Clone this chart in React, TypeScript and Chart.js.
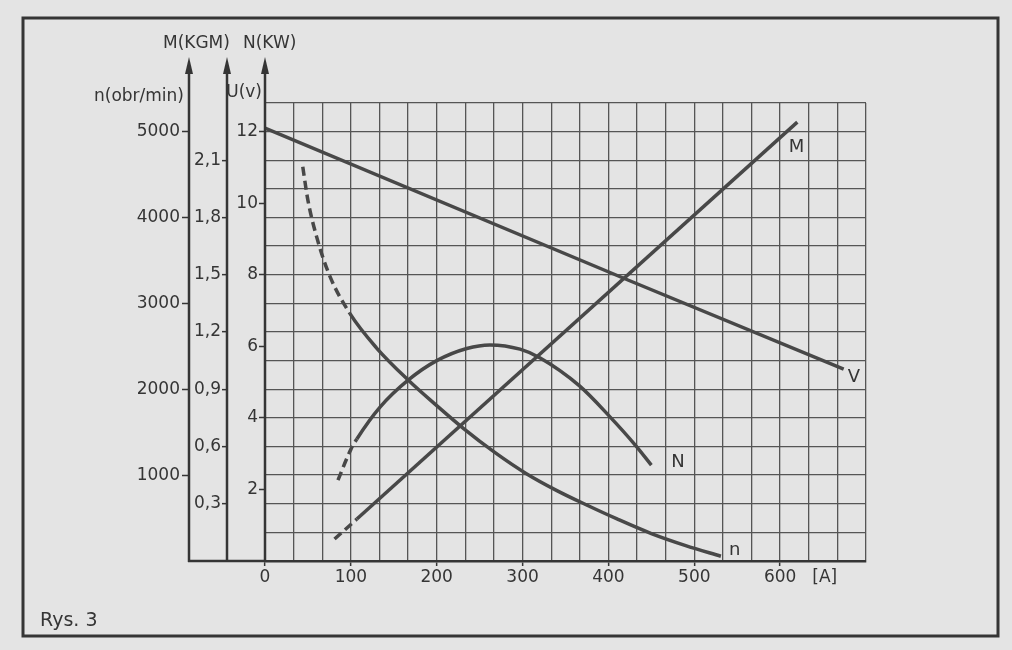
import React, { useEffect, useRef } from 'react';
import { Chart, registerables } from 'chart.js';

Chart.register(...registerables);

// ---- tick labels ----
const CURRENT_LABELS = [0, 100, 200, 300, 400, 500, 600];
const CURRENT_UNIT = '[A]';
const CURRENT_UNIT_AT = 652;
const U_TICKS = [2, 4, 6, 8, 10, 12];
const M_TICKS = [0.3, 0.6, 0.9, 1.2, 1.5, 1.8, 2.1];
const RPM_TICKS = [1000, 2000, 3000, 4000, 5000];

// ---- series (current I [A]); the first *_DASHED points are drawn dashed ----
// U (labelled V) [V]
const V_I = [0, 422, 674];
const V_U = [12.1, 7.86, 5.36];
// M torque [kGm]
const M_I = [81, 107, 620];
const M_VAL = [0.115, 0.22, 2.3];
const M_DASHED = 2;
// N power [kW]
const NP_I = [85, 100, 107, 134, 167, 200, 235, 262, 297, 320, 366, 401, 432, 450];
const NP_VAL = [2.26, 3.12, 3.41, 4.3, 5.06, 5.6, 5.94, 6.04, 5.92, 5.68, 4.9, 4.05, 3.22, 2.68];
const NP_DASHED = 3;
// n speed [obr/min]
const RPM_I = [44, 50, 60, 75, 99, 130, 167, 200, 231, 268, 304, 340, 374, 410, 450, 490, 531];
const RPM_VAL = [4590, 4200, 3780, 3330, 2880, 2480, 2105, 1810, 1545, 1262, 1020, 820, 655, 490, 320, 180, 55];
const RPM_DASHED = 5;

// curve name labels (I, U-axis units)
const CURVE_NAMES = ['M', 'V', 'N', 'n'];
const CURVE_NAME_I = [619, 686, 481, 547];
const CURVE_NAME_U = [11.57, 5.14, 2.77, 0.31];

const PAPER = '#e4e4e4';
const INK = '#353535';
const CURVE = '#484848';
const GRID = '#555555';
const FONT = 'DejaVu Sans';

const X_STEP = 100 / 3;
const M_STEP = 0.15;

const pts = (xs: number[], ys: number[]) => xs.map((x, i) => ({ x, y: ys[i] }));
const near = (a: number, b: number) => Math.abs(a - b) < 1e-6;

const decor = {
  id: 'decor',
  beforeDraw(chart: any) {
    const { ctx, width, height } = chart;
    ctx.save();
    ctx.fillStyle = PAPER;
    ctx.fillRect(0, 0, width, height);
    ctx.restore();
  },
  afterDraw(chart: any) {
    const { ctx, chartArea, scales } = chart;
    ctx.save();
    ctx.strokeStyle = INK;
    ctx.fillStyle = INK;
    // frame
    ctx.lineWidth = 3;
    ctx.strokeRect(23, 18, 975, 618);
    // axis lines with arrows
    ctx.lineWidth = 2.5;
    const tip = 57;
    [scales.yn, scales.yM, scales.y].forEach((s: any) => {
      const x = s.right;
      ctx.beginPath();
      ctx.moveTo(x, chartArea.bottom + 1);
      ctx.lineTo(x, tip + 10);
      ctx.stroke();
      ctx.beginPath();
      ctx.moveTo(x, tip);
      ctx.lineTo(x - 4, tip + 17);
      ctx.lineTo(x + 4, tip + 17);
      ctx.closePath();
      ctx.fill();
    });
    // bottom extension
    ctx.beginPath();
    ctx.moveTo(scales.yn.right - 1, chartArea.bottom);
    ctx.lineTo(chartArea.left, chartArea.bottom);
    ctx.stroke();
    // titles
    ctx.font = `17px "${FONT}"`;
    ctx.textBaseline = 'middle';
    ctx.textAlign = 'right';
    ctx.fillText('n(obr/min)', scales.yn.right - 5, 97);
    ctx.fillText('U(v)', scales.y.right - 3, 93);
    ctx.textAlign = 'left';
    ctx.fillText('M(KGM)', 163, 44);
    ctx.fillText('N(KW)', 243, 44);
    // curve names
    ctx.font = `18px "${FONT}"`;
    ctx.textAlign = 'center';
    CURVE_NAMES.forEach((t, i) => {
      ctx.fillText(t, scales.x.getPixelForValue(CURVE_NAME_I[i]), scales.y.getPixelForValue(CURVE_NAME_U[i]));
    });
    // caption
    ctx.textAlign = 'left';
    ctx.textBaseline = 'alphabetic';
    ctx.font = `19px "${FONT}"`;
    ctx.fillText('Rys. 3', 40, 626);
    ctx.restore();
  },
};

export default function App() {
  const ref = useRef<HTMLCanvasElement | null>(null);
  useEffect(() => {
    if (!ref.current) return;
    const lineDs = (data: any[], axis: string, dashedPts: number, smooth: boolean) => ({
      data,
      yAxisID: axis,
      borderColor: CURVE,
      borderWidth: 3.5,
      borderDash: [],
      segment: {
        borderDash: (c: any) => (c.p0DataIndex < dashedPts - 1 ? [9, 5] : []),
      },
      pointRadius: 0,
      fill: false,
      cubicInterpolationMode: smooth ? 'monotone' : 'default',
      tension: 0,
    });
    const tickFont = { family: FONT, size: 17 };
    const chart = new Chart(ref.current, {
      type: 'line',
      data: {
        datasets: [
          lineDs(pts(V_I, V_U), 'y', 0, false),
          lineDs(pts(M_I, M_VAL), 'yM', M_DASHED, false),
          lineDs(pts(NP_I, NP_VAL), 'y', NP_DASHED, true),
          lineDs(pts(RPM_I, RPM_VAL), 'yn', RPM_DASHED, true),
        ] as any,
      },
      options: {
        animation: false,
        responsive: false,
        devicePixelRatio: 1,
        layout: { padding: { left: 130, top: 103, right: 146, bottom: 49 } },
        plugins: { legend: { display: false }, tooltip: { enabled: false }, title: { display: false } },
        scales: {
          x: {
            type: 'linear',
            position: 'bottom',
            min: 0,
            max: 700,
            afterBuildTicks: (s: any) => {
              const t: any[] = [];
              for (let k = 0; k <= 21; k++) t.push({ value: k * X_STEP });
              t.push({ value: CURRENT_UNIT_AT });
              t.sort((a, b) => a.value - b.value);
              s.ticks = t;
            },
            afterFit: (s: any) => { s.height = 40; },
            ticks: {
              autoSkip: false,
              maxRotation: 0,
              padding: 1,
              color: INK,
              font: tickFont,
              callback: (v: any) => {
                if (near(v, CURRENT_UNIT_AT)) return CURRENT_UNIT;
                const hit = CURRENT_LABELS.find((c) => near(c, v));
                return hit === undefined ? '' : String(hit);
              },
            },
            grid: {
              color: (c: any) => (c.tick && near(c.tick.value, CURRENT_UNIT_AT) ? 'rgba(0,0,0,0)' : GRID),
              lineWidth: 1.3,
              tickLength: 5,
              tickColor: (c: any) => (c.tick && CURRENT_LABELS.some((v) => near(v, c.tick.value)) ? INK : 'rgba(0,0,0,0)'),
              tickWidth: 1.5,
            },
            border: { display: true, color: INK, width: 2.5 },
          },
          y: {
            type: 'linear',
            position: 'left',
            weight: 1,
            min: 0,
            max: 12.8,
            afterBuildTicks: (s: any) => { s.ticks = U_TICKS.map((v) => ({ value: v })); },
            afterFit: (s: any) => { s.width = 38; },
            ticks: { padding: 1, color: INK, font: tickFont, callback: (v: any) => String(v) },
            grid: { drawOnChartArea: false, tickLength: 6, tickColor: INK, tickWidth: 1.5, color: INK },
            border: { display: false },
          },
          yM: {
            type: 'linear',
            position: 'left',
            weight: 2,
            min: 0,
            max: 2.4,
            afterBuildTicks: (s: any) => {
              const t: any[] = [];
              for (let k = 0; k <= 16; k++) t.push({ value: Math.round(k * M_STEP * 100) / 100 });
              s.ticks = t;
            },
            afterFit: (s: any) => { s.width = 38; },
            ticks: {
              autoSkip: false,
              padding: 1,
              color: INK,
              font: tickFont,
              callback: (v: any) => (M_TICKS.some((m) => near(m, v)) ? Number(v).toFixed(1).replace('.', ',') : ''),
            },
            grid: {
              drawOnChartArea: true,
              color: GRID,
              lineWidth: 1.3,
              tickLength: 5,
              tickWidth: 1.5,
              tickColor: (c: any) => (c.tick && M_TICKS.some((m) => near(m, c.tick.value)) ? INK : 'rgba(0,0,0,0)'),
            },
            border: { display: false },
          },
          yn: {
            type: 'linear',
            position: 'left',
            weight: 3,
            min: 0,
            max: 16000 / 3,
            afterBuildTicks: (s: any) => { s.ticks = RPM_TICKS.map((v) => ({ value: v })); },
            afterFit: (s: any) => { s.width = 59; },
            ticks: { padding: 2, color: INK, font: tickFont, callback: (v: any) => String(v) },
            grid: { drawOnChartArea: false, tickLength: 7, tickColor: INK, tickWidth: 1.5, color: INK },
            border: { display: false },
          },
        },
      } as any,
      plugins: [decor],
    });
    return () => chart.destroy();
  }, []);
  return (
    <div style={{ position: 'absolute', left: 0, top: 0, width: 1012, height: 650, background: PAPER }}>
      <canvas ref={ref} width={1012} height={650} style={{ display: 'block', width: 1012, height: 650 }} />
    </div>
  );
}
